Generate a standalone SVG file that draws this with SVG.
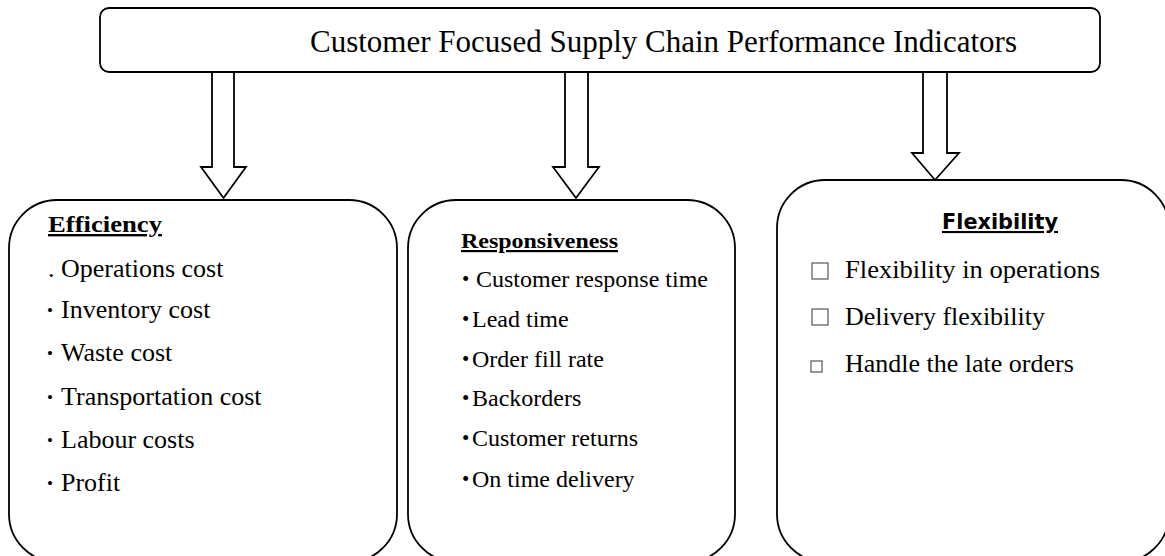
<svg xmlns="http://www.w3.org/2000/svg" width="1165" height="556" viewBox="0 0 1165 556">
<style>
.box{fill:#fff;stroke:#000;stroke-width:1.8}
.arrow{fill:#fff;stroke:#000;stroke-width:1.8;stroke-linejoin:miter}
.t{font-family:"Liberation Serif","Times New Roman",serif;fill:#000}
.h{font-family:"Liberation Serif","Times New Roman",serif;font-weight:bold;text-decoration:underline;fill:#000}
.hs{font-family:"DejaVu Sans",Verdana,sans-serif;font-weight:bold;text-decoration:underline;fill:#000}
.l{font-size:26px}
.m{font-size:24px}
.b{font-size:17px}
.bm{font-size:21px}
.chk{fill:none;stroke:#555;stroke-width:1.2}
</style>
<rect width="1165" height="556" fill="#fff"/>
<g id="connectors">
<polygon class="arrow" points="212,72 234,72 234,167 246,167 223.5,198 201,167 212,167"/>
<polygon class="arrow" points="565,72 588,72 588,167 599,167 576,198 553,167 565,167"/>
<polygon class="arrow" points="923,72 947,72 947,153 959,153 935,180 912,153 923,153"/>
</g>
<g id="title">
<rect class="box" x="100" y="8" width="1000" height="64" rx="9"/>
<text class="t" x="310" y="52" font-size="32" textLength="707" lengthAdjust="spacingAndGlyphs">Customer Focused Supply Chain Performance Indicators</text>
</g>
<g id="efficiency">
<rect class="box" x="9" y="200" width="388" height="362" rx="48"/>
<text class="h" x="48" y="232" font-size="24" textLength="114" lengthAdjust="spacingAndGlyphs">Efficiency</text>
<text class="t l" x="48" y="277">. Operations cost</text>
<text class="t l" x="47" y="318"><tspan class="b" baseline-shift="2">•</tspan><tspan x="61">Inventory cost</tspan></text>
<text class="t l" x="47" y="361"><tspan class="b" baseline-shift="2">•</tspan><tspan x="61">Waste cost</tspan></text>
<text class="t l" x="47" y="405"><tspan class="b" baseline-shift="2">•</tspan><tspan x="61">Transportation cost</tspan></text>
<text class="t l" x="47" y="448"><tspan class="b" baseline-shift="2">•</tspan><tspan x="61">Labour costs</tspan></text>
<text class="t l" x="47" y="491"><tspan class="b" baseline-shift="2">•</tspan><tspan x="61">Profit</tspan></text>
</g>
<g id="responsiveness">
<rect class="box" x="408" y="200" width="327" height="362" rx="48"/>
<text class="h" x="461" y="248" font-size="22" textLength="157" lengthAdjust="spacingAndGlyphs">Responsiveness</text>
<text class="t m" x="462" y="287"><tspan class="bm" baseline-shift="1">•</tspan><tspan x="476">Customer response time</tspan></text>
<text class="t m" x="462" y="327"><tspan class="bm" baseline-shift="1">•</tspan><tspan x="472">Lead time</tspan></text>
<text class="t m" x="462" y="367"><tspan class="bm" baseline-shift="1">•</tspan><tspan x="472">Order fill rate</tspan></text>
<text class="t m" x="462" y="406"><tspan class="bm" baseline-shift="1">•</tspan><tspan x="472">Backorders</tspan></text>
<text class="t m" x="462" y="446"><tspan class="bm" baseline-shift="1">•</tspan><tspan x="472">Customer returns</tspan></text>
<text class="t m" x="462" y="487"><tspan class="bm" baseline-shift="1">•</tspan><tspan x="472">On time delivery</tspan></text>
</g>
<g id="flexibility">
<rect class="box" x="777" y="180" width="392" height="382" rx="48"/>
<text class="hs" x="942" y="229" font-size="21" textLength="116" lengthAdjust="spacingAndGlyphs">Flexibility</text>
<rect class="chk" x="812" y="263" width="16" height="16"/>
<text class="t l" x="845" y="278" textLength="255" lengthAdjust="spacingAndGlyphs">Flexibility in operations</text>
<rect class="chk" x="812" y="309" width="16" height="16"/>
<text class="t l" x="845" y="325">Delivery flexibility</text>
<rect class="chk" x="811" y="361" width="11" height="11"/>
<text class="t l" x="845" y="372">Handle the late orders</text>
</g>
</svg>
